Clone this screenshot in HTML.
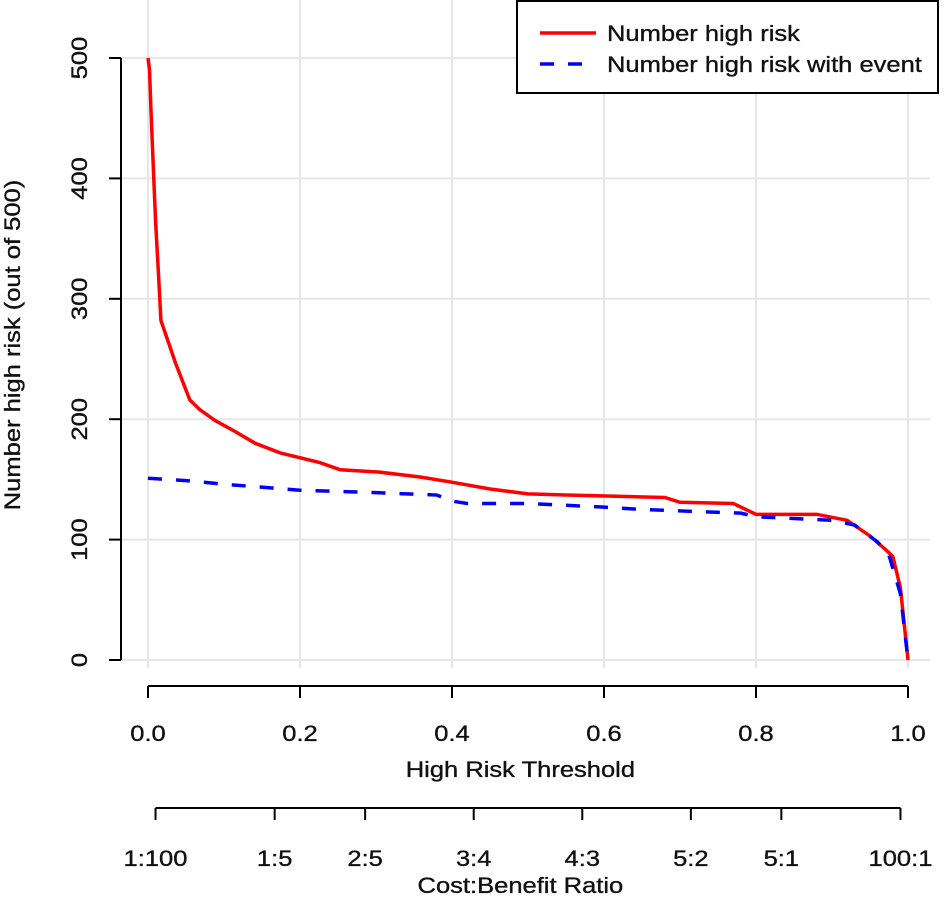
<!DOCTYPE html>
<html><head><meta charset="utf-8"><style>
body{margin:0;background:#fff}
text{font-family:"Liberation Sans",Arial,sans-serif;fill:#111;stroke:#111;stroke-width:0.35}
</style></head><body>
<svg id="c" width="945" height="901" xmlns="http://www.w3.org/2000/svg"></svg>
<script>
const yTicks=[0,100,200,300,400,500];
const xTicks=[0,0.2,0.4,0.6,0.8,1.0];
const xTickLabels=["0.0","0.2","0.4","0.6","0.8","1.0"];
const cbLabels=["1:100","1:5","2:5","3:4","4:3","5:2","5:1","100:1"];
const cbThresholds=[1/101,1/6,2/7,3/7,4/7,5/7,5/6,100/101];
const redX=[0,0.002,0.004,0.007,0.01,0.014,0.017,0.036,0.055,0.068,0.088,0.114,0.141,0.174,0.226,0.253,0.305,0.358,0.397,0.45,0.5,0.55,0.68,0.7,0.77,0.8,0.88,0.92,0.95,0.97,0.98,0.99,0.995,1.0];
const redY=[500,490,455,409,364,318,282,247,216,208,199,190,180,172,164,158,156,152,148,142,138,137,135,131,130,121,121,116,103,92,86,60,30,0];
const blueX=[0,0.05,0.1,0.2,0.3,0.38,0.4,0.42,0.5,0.6,0.65,0.78,0.8,0.9,0.93,0.96,0.975,0.99,1.0];
const blueY=[151,149,146,141,139,137,132,130,130,127,125,122,119,116,112,98,87,55,0];
const NS="http://www.w3.org/2000/svg",svg=document.getElementById('c');
const sx=v=>148+v*760, sy=v=>660-v*1.204;
function mk(t,a,p){const e=document.createElementNS(NS,t);for(const k in a)e.setAttribute(k,a[k]);(p||svg).appendChild(e);return e;}
const texts=[];
function tx(a,s,p){const t=mk('text',Object.assign({'font-size':22},a),p);t.textContent=s;texts.push(t);return t;}
xTicks.forEach(v=>{const l=mk('line',{x1:sx(v),x2:sx(v),y1:0,y2:668,stroke:'#e6e6e6','stroke-width':2});

});
yTicks.forEach(v=>{const l=mk('line',{x1:121,x2:930,y1:sy(v),y2:sy(v),stroke:'#e6e6e6','stroke-width':2});

});
const ya=mk('line',{x1:121,x2:121,y1:sy(0),y2:sy(500),stroke:'#000','stroke-width':2});


yTicks.forEach(v=>{mk('line',{x1:109,x2:121,y1:sy(v),y2:sy(v),stroke:'#000','stroke-width':2});
const t=tx({x:87,y:sy(v),'text-anchor':'middle',transform:`rotate(-90 87 ${sy(v)})`},v);

});
const yt=tx({x:20,y:345,'text-anchor':'middle',transform:'rotate(-90 20 345)'},'Number high risk (out of 500)');


const xa=mk('line',{x1:sx(0),x2:sx(1),y1:686,y2:686,stroke:'#000','stroke-width':2});


xTicks.forEach((v,i)=>{mk('line',{x1:sx(v),x2:sx(v),y1:686,y2:698,stroke:'#000','stroke-width':2});
const t=tx({x:sx(v),y:741,'text-anchor':'middle'},xTickLabels[i]);

});
const xt=tx({x:sx(0.49),y:777,'text-anchor':'middle'},'High Risk Threshold');


const ca=mk('line',{x1:sx(cbThresholds[0]),x2:sx(cbThresholds[7]),y1:808,y2:808,stroke:'#000','stroke-width':2});


cbThresholds.forEach((v,i)=>{mk('line',{x1:sx(v),x2:sx(v),y1:808,y2:820,stroke:'#000','stroke-width':2});
const t=tx({x:sx(v),y:866,'text-anchor':'middle'},cbLabels[i]);

});
const ct=tx({x:sx(0.49),y:893,'text-anchor':'middle'},'Cost:Benefit Ratio');


const rp=mk('polyline',{points:redX.map((x,i)=>sx(x)+','+sy(redY[i])).join(' '),fill:'none',stroke:'#ff0000','stroke-width':3.5});


const bp=mk('polyline',{points:blueX.map((x,i)=>sx(x)+','+sy(blueY[i])).join(' '),fill:'none',stroke:'#0000ff','stroke-width':3.5,'stroke-dasharray':'14 14'});


const lg=mk('g',{});


mk('rect',{x:517,y:1,width:421,height:92,fill:'#fff',stroke:'#000','stroke-width':2},lg);
mk('line',{x1:540,x2:596,y1:33,y2:33,stroke:'#ff0000','stroke-width':3.5},lg);
mk('line',{x1:540,x2:596,y1:64,y2:64,stroke:'#0000ff','stroke-width':3.5,'stroke-dasharray':'14 14'},lg);
const l1=tx({x:607,y:41},'Number high risk',lg);


const l2=tx({x:607,y:72},'Number high risk with event',lg);


texts.forEach(t=>{const w=t.getComputedTextLength();t.setAttribute('textLength',(w*1.16).toFixed(1));t.setAttribute('lengthAdjust','spacingAndGlyphs');});
</script>
</body></html>
